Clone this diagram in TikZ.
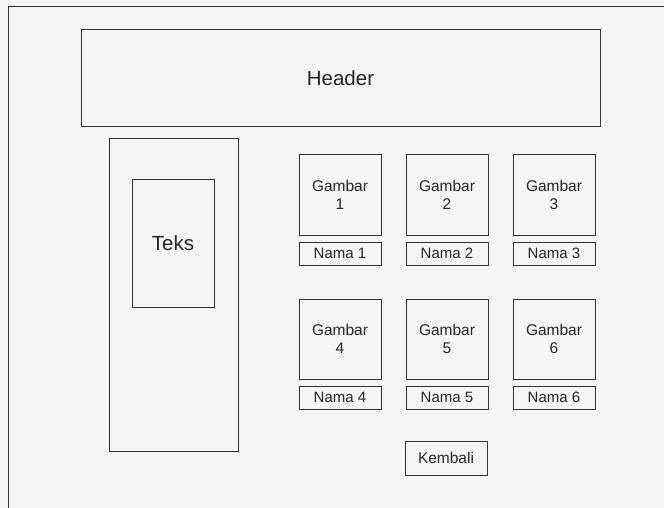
\documentclass[tikz,border=0pt]{standalone}
\usepackage{fontspec}
\setmainfont{Liberation Sans}
\begin{document}
\begin{tikzpicture}[x=1pt,y=-1pt,
  box/.style={draw=black!80, line width=1pt, rectangle, inner sep=0pt, outer sep=0pt,
    text=black!85, font=\fontsize{15.5}{18}\selectfont, align=center},
  big/.style={font=\fontsize{20.5}{24}\selectfont},
  small/.style={font=\fontsize{15}{18}\selectfont}]
\useasboundingbox (0,0) rectangle (664,508);
\fill[black!4] (0,0) rectangle (664,508);
% outer frame (open on right and bottom)
\coordinate (fl) at (8,508);
\coordinate (ft) at (8,7);
\coordinate (fr) at (664,7);
\draw[draw=black!80, line width=1pt] (fl) -- (ft) -- (fr);
% header
\node[box, big, minimum width=519pt, minimum height=97pt] (header) at (340.5,78.5) {Header};
% left panel
\node[box, minimum width=129pt, minimum height=312pt] (panel) at (173.5,295) {};
\node[box, big, minimum width=82pt, minimum height=128pt] (teks) at (173,243) {Teks};
% images
\foreach \i/\x/\y in {1/340/195, 2/447/195, 3/554/195, 4/340/339, 5/447/339, 6/554/339}{
  \node[box, minimum width=82pt, minimum height=80pt] (g\i) at (\x,\y) {Gambar\\\i};
  \node[box, small, minimum width=82pt, minimum height=23pt] (n\i) at (\x,\y+58.5) {Nama \i};
}
% back button
\node[box, minimum width=82pt, minimum height=34pt] (kembali) at (446,458) {Kembali};
\end{tikzpicture}
\end{document}
